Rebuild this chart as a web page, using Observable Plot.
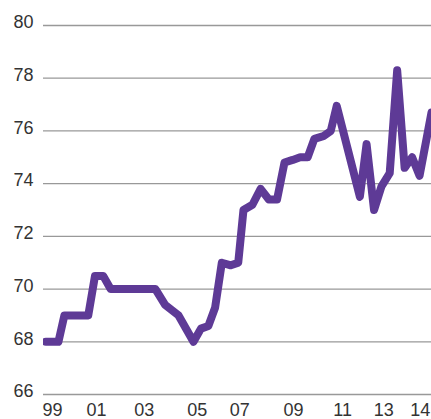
<!DOCTYPE html>
<html><head><meta charset="utf-8">
<script src="https://cdn.jsdelivr.net/npm/d3@7"></script>
<script src="https://cdn.jsdelivr.net/npm/@observablehq/plot@0.6"></script>
<style>body{margin:0;background:#fff}</style>
</head><body><div id="chart"></div>
<script>
const obs = [0.3, 2.0, 2.8, 6.0, 6.9, 8.0, 9.0, 15.0, 16.3, 18.1, 20.1, 21.1, 22.1, 23.0, 23.9, 25.1, 26.1, 26.8, 28.0, 29.1, 30.2, 31.3, 32.3, 33.4, 34.4, 35.4, 36.3, 37.5, 38.5, 39.3, 42.4, 43.3, 44.3, 45.3, 46.4, 47.4, 48.4, 49.4, 50.4, 52.0];
const values = [68.0, 68.0, 69.0, 69.0, 70.5, 70.5, 70.0, 70.0, 69.4, 69.0, 68.0, 68.5, 68.6, 69.3, 71.0, 70.9, 71.0, 73.0, 73.2, 73.8, 73.4, 73.4, 74.8, 74.9, 75.0, 75.0, 75.7, 75.8, 76.0, 76.95, 73.5, 75.5, 73.0, 73.9, 74.4, 78.3, 74.6, 75.0, 74.3, 76.7];
const tickPos = [1.2, 7.1, 13.5, 20.6, 26.3, 33.5, 40.1, 45.6, 50.5];
const tickLabels = ["99", "01", "03", "05", "07", "09", "11", "13", "14"];
const yTicks = [66, 68, 70, 72, 74, 76, 78, 80];

const data = obs.map((t, i) => ({t, v: values[i]}));
const labelOf = new Map(tickPos.map((p, i) => [p, tickLabels[i]]));

const chart = Plot.plot({
  width: 431,
  height: 419,
  marginLeft: 43,
  marginRight: 0,
  marginTop: 25,
  marginBottom: 25,
  style: {fontFamily: "'Liberation Sans', Arial, sans-serif", fontSize: "18px", color: "#333", background: "#fff", overflow: "hidden"},
  x: {domain: [0, 52]},
  y: {domain: [66, 80]},
  marks: [
    Plot.ruleY(yTicks, {stroke: "#999", strokeWidth: 1.3}),
    Plot.axisY({ticks: yTicks, tickSize: 0, tickPadding: 10, dy: -3, fill: "#333", fontSize: 18, label: null}),
    Plot.axisX({ticks: tickPos, tickFormat: d => labelOf.get(d), tickSize: 0, tickPadding: 9, fill: "#333", fontSize: 18, label: null}),
    Plot.line(data, {x: "t", y: "v", stroke: "#5e3a96", strokeWidth: 8, strokeLinejoin: "round", strokeLinecap: "round", clip: true})
  ]
});
document.getElementById("chart").appendChild(chart);
</script>
</body></html>
